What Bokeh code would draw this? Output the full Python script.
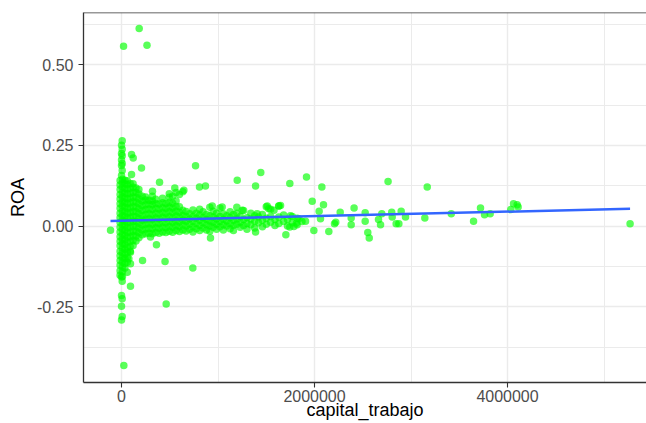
from bokeh.plotting import figure
from bokeh.models import Range1d, FixedTicker, NumeralTickFormatter, Span, ColumnDataSource
from bokeh.embed import file_html
from bokeh.resources import INLINE

# ---------------- data ----------------
# dense cloud: x position of each column and the ROA values stacked in it
cloud_col_x = [-15000, 10000, 35000, 60000, 90000, 120000, 150000, 180000,
               215000, 250000, 285000, 320000, 355000, 390000, 425000, 460000,
               495000, 530000, 565000, 600000, 635000, 670000,
               705000, 740000, 775000, 810000, 845000, 880000, 915000, 950000,
               985000, 1020000, 1055000, 1090000, 1125000, 1160000, 1195000,
               1230000, 1265000, 1300000, 1340000, 1380000, 1420000, 1460000,
               1500000, 1545000, 1590000, 1630000, 1680000, 1720000, 1770000,
               1820000, 1870000]
cloud_col_roa = [
    [-0.152, -0.138, -0.121, -0.107, -0.092, -0.078, -0.061, -0.047, -0.033, -0.018, -0.004, 0.011, 0.026, 0.040, 0.055, 0.069, 0.084, 0.098, 0.113, 0.127, 0.141],
    [-0.156, -0.141, -0.127, -0.112, -0.098, -0.083, -0.069, -0.054, -0.040, -0.025, -0.011, 0.004, 0.018, 0.033, 0.047, 0.062, 0.076, 0.091, 0.105, 0.120, 0.134, 0.145],
    [-0.130, -0.116, -0.101, -0.087, -0.072, -0.058, -0.043, -0.029, -0.014, 0.000, 0.015, 0.029, 0.044, 0.058, 0.073, 0.087, 0.102, 0.116, 0.131, 0.142],
    [-0.112, -0.097, -0.081, -0.066, -0.050, -0.035, -0.020, -0.005, 0.010, 0.025, 0.040, 0.055, 0.070, 0.085, 0.100, 0.115, 0.129, 0.140],
    [-0.078, -0.063, -0.048, -0.033, -0.018, -0.003, 0.012, 0.027, 0.042, 0.057, 0.072, 0.087, 0.102, 0.117, 0.132],
    [-0.060, -0.045, -0.030, -0.015, 0.000, 0.015, 0.030, 0.045, 0.060, 0.075, 0.090, 0.105, 0.120, 0.131],
    [-0.046, -0.031, -0.016, -0.001, 0.014, 0.029, 0.044, 0.059, 0.074, 0.089, 0.104, 0.118],
    [-0.036, -0.021, -0.006, 0.009, 0.024, 0.039, 0.054, 0.069, 0.084, 0.099, 0.113],
    [-0.027, -0.012, 0.003, 0.018, 0.033, 0.048, 0.063, 0.078, 0.092],
    [-0.024, -0.009, 0.006, 0.021, 0.036, 0.051, 0.066, 0.081, 0.090],
    [-0.022, -0.007, 0.008, 0.023, 0.038, 0.053, 0.068, 0.080],
    [-0.024, -0.009, 0.006, 0.021, 0.036, 0.051, 0.066, 0.078, 0.092],
    [-0.020, -0.005, 0.010, 0.025, 0.040, 0.055, 0.070, 0.083],
    [-0.022, -0.007, 0.008, 0.023, 0.038, 0.053, 0.068],
    [-0.018, -0.003, 0.012, 0.027, 0.042, 0.057, 0.072, 0.086],
    [-0.020, -0.005, 0.010, 0.025, 0.040, 0.055, 0.070],
    [-0.016, -0.001, 0.014, 0.029, 0.044, 0.059, 0.074, 0.089, 0.100],
    [-0.019, -0.004, 0.011, 0.026, 0.041, 0.056, 0.071, 0.092],
    [-0.014, 0.001, 0.016, 0.031, 0.046, 0.061, 0.078, 0.104],
    [-0.017, -0.002, 0.013, 0.028, 0.043, 0.060, 0.098],
    [-0.012, 0.003, 0.018, 0.033, 0.049, 0.106],
    [-0.015, 0.000, 0.015, 0.030, 0.045],
    [-0.010, 0.006, 0.022, 0.038],
    [-0.018, -0.002, 0.014, 0.030, 0.050],
    [-0.008, 0.008, 0.024, 0.040],
    [-0.014, 0.002, 0.018, 0.034, 0.052],
    [-0.006, 0.010, 0.026, 0.044],
    [-0.012, 0.004, 0.020, 0.036],
    [-0.016, 0.000, 0.016, 0.032, 0.058],
    [-0.004, 0.012, 0.028, 0.046],
    [-0.010, 0.006, 0.022, 0.040],
    [-0.002, 0.014, 0.030, 0.056],
    [-0.012, 0.004, 0.020, 0.038],
    [0.000, 0.016, 0.032],
    [-0.008, 0.008, 0.026, 0.044],
    [-0.014, 0.002, 0.018, 0.036],
    [0.006, 0.022, 0.040, 0.058],
    [-0.004, 0.012, 0.030],
    [0.002, 0.020, 0.048],
    [-0.010, 0.008, 0.026],
    [0.004, 0.022, 0.040],
    [-0.006, 0.014, 0.032],
    [0.010, 0.028],
    [-0.002, 0.018, 0.036],
    [0.006, 0.024, 0.060],
    [0.012, 0.030, 0.052],
    [0.002, 0.020],
    [0.008, 0.028, 0.062],
    [0.014, 0.034],
    [0.000, 0.020],
    [0.010, 0.030],
    [0.004, 0.024],
    [0.014],
]

# isolated points near the vertical spike and the cloud
near_x = [7000, 0, 7000, 0, 7000, 0, 7000, 0, 7000, 0,
          0, 7000, 0, 7000, 0, 7000, 0, 24000,
          21000, 183000, 264000,
          104000, 121000, 104000, 207000, 394000, 321000, 767000, 808000, 870000, 646000, 552000,
          -114000, 60000, 93000, 93000, 76000, 93000, 218000, 451000, 739000, 463000, 362000, 300000, 922000]
near_roa = [0.264, 0.250, 0.238, 0.225, 0.218, 0.205, 0.194, 0.188, 0.172, 0.157,
            -0.158, -0.171, -0.215, -0.225, -0.248, -0.280, -0.291, -0.432,
            0.557, 0.612, 0.560,
            0.222, 0.211, 0.160, 0.180, 0.136, 0.108, 0.187, 0.121, 0.124, 0.111, 0.118,
            -0.013, -0.143, -0.186, -0.081, -0.101, -0.117, -0.107, -0.110, -0.130, -0.241, -0.058, -0.034, -0.037]

# scattered points at larger working capital
far_x = [1199000, 1389000, 1443000, 1744000, 1917000, 2076000, 2762000, 3168000,
         1976000, 2093000, 2048000, 2062000, 2266000, 2410000, 2525000, 2697000,
         2800000, 2898000, 2943000, 2805000, 3143000, 3417000, 3720000, 3648000,
         3762000, 3820000, 4034000, 4062000, 4100000, 4110000, 5270000,
         2380000, 2380000, 2220000, 2207000, 2525000, 2552000, 2567000, 2663000,
         2684000, 2846000, 2874000, 2148000, 1993000, 1703000, 1389000,
         1751000, 1838000, 1907000, 1744000, 1786000, 1813000, 1648000,
         940000, 1043000, 1251000, 1406000, 1510000, 1526000, 1630000, 1580000]
far_roa = [0.142, 0.124, 0.166, 0.132, 0.152, 0.121, 0.138, 0.121,
           0.077, 0.066, 0.046, 0.023, 0.0425, 0.056, 0.0416, 0.0385,
           0.0425, 0.0457, 0.028, 0.028, 0.025, 0.0385, 0.056, 0.0146,
           0.0354, 0.0385, 0.051, 0.0695, 0.066, 0.059, 0.0075,
           0.025, 0.0043, 0.0115, 0.0075, 0.0146, -0.0196, -0.037, 0.020,
           0.0043, 0.0075, 0.0075, -0.0165, -0.0134, -0.027, -0.0186,
           0.032, 0.023, 0.0146, -0.003, -0.001, 0.0093, 0.064,
           0.062, 0.059, 0.049, 0.0385, 0.062, 0.054, 0.062, 0.049]

# linear fit (geom_smooth, method = "lm")
fit_x = [-114000, 5270000]
fit_roa = [0.0160, 0.0535]

x_ticks = [0, 2000000, 4000000]
x_minor = [1000000, 3000000, 5000000]
y_ticks = [-0.25, 0.0, 0.25, 0.5]
y_minor = [-0.375, -0.125, 0.125, 0.375, 0.625]

# ---------------- build sources ----------------
pts_x, pts_roa = [], []
for cx, vals in zip(cloud_col_x, cloud_col_roa):
    pts_x += [cx] * len(vals)
    pts_roa += vals
pts_x += near_x + far_x
pts_roa += near_roa + far_roa
src = ColumnDataSource(dict(x=pts_x, y=pts_roa))

Y0, Y1 = -0.4845, 0.6615
X0, X1 = -394000, 5440200

p = figure(width=646, height=423, x_range=Range1d(X0, X1), y_range=Range1d(Y0, Y1),
           output_backend="svg", toolbar_location=None,
           min_border_left=83, min_border_right=0, min_border_top=12, min_border_bottom=41)
p.outline_line_color = None
p.background_fill_color = "white"
p.border_fill_color = "white"

p.scatter("x", "y", source=src, size=7.5, fill_color="#00FF00", fill_alpha=0.65,
          line_color=None)
p.line(fit_x, fit_roa, line_color="#3366FF", line_width=2.5)

xt = FixedTicker(ticks=x_ticks, minor_ticks=x_minor)
yt = FixedTicker(ticks=y_ticks, minor_ticks=y_minor)
p.xaxis.ticker = xt
p.yaxis.ticker = yt
p.xgrid.ticker = xt
p.ygrid.ticker = yt
p.xaxis.formatter = NumeralTickFormatter(format="0")
p.yaxis.formatter = NumeralTickFormatter(format="0.00")

for g in (p.xgrid, p.ygrid):
    g.grid_line_color = "#EBEBEB"
    g.grid_line_width = 1.4
    g.minor_grid_line_color = "#EBEBEB"
    g.minor_grid_line_width = 1.0

for ax in (p.xaxis, p.yaxis):
    ax.axis_line_color = "#333333"
    ax.axis_line_width = 1.3
    ax.major_tick_line_color = "#333333"
    ax.major_tick_line_width = 1.1
    ax.major_tick_out = 5
    ax.major_tick_in = 0
    ax.minor_tick_line_color = None
    ax.major_label_text_font = "Liberation Sans"
    ax.major_label_text_font_size = "16px"
    ax.major_label_text_color = "#4D4D4D"
    ax.axis_label_text_font = "Liberation Sans"
    ax.axis_label_text_font_size = "18px"
    ax.axis_label_text_font_style = "normal"
    ax.axis_label_text_color = "black"

p.xaxis.major_label_standoff = 2
p.yaxis.major_label_standoff = 5
p.yaxis.axis_label = "ROA"
p.yaxis.axis_label_standoff = 6
p.xaxis.axis_label = "capital_trabajo"
p.xaxis.axis_label_standoff = -5

p.add_layout(Span(location=Y1, dimension="width", line_color="#333333", line_width=1.3))

open("out.html", "w").write(file_html(p, INLINE))
